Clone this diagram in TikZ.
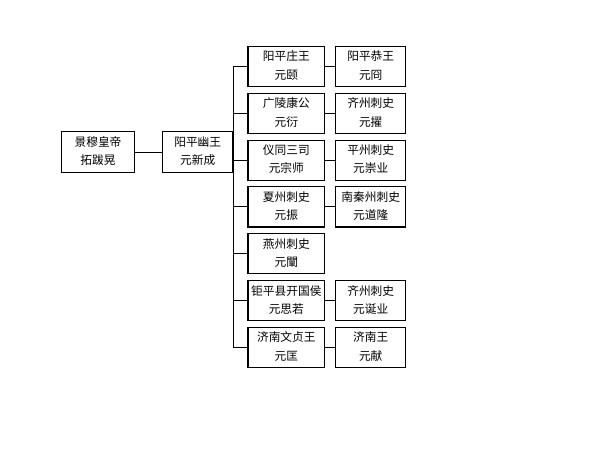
\documentclass[tikz,border=0pt]{standalone}
\usepackage{fontspec}
\newfontfamily\cjk{Noto Sans CJK SC}
\usepackage{tikz}
\usetikzlibrary{matrix,positioning}
\newcommand{\twoline}[2]{\begin{tabular}{@{}c@{}}#1\\#2\end{tabular}}
\renewcommand{\arraystretch}{1.25}
\tikzset{person/.style={draw, line width=0.9pt, minimum height=1.2cm, inner sep=1.5pt,
           font=\cjk\fontsize{10}{12.5}\selectfont},
         link/.style={line width=0.8pt}}

\begin{document}
\begin{tikzpicture}
	  \useasboundingbox (0,0) rectangle (17.76,-13.56);
	  \node[person, minimum width=2.2cm] (emp) at (2.94,-4.56) {\twoline{景穆皇帝}{拓跋晃}};
	  \node[person, minimum width=2.1cm, right=0.81cm of emp] (xincheng) {\twoline{阳平幽王}{元新成}};
	  \matrix (m) [matrix of nodes, row sep=0.17cm, column sep=0.3cm, anchor=north west,
	    nodes={person},
	    column 1/.style={nodes={minimum width=2.3cm}},
	    column 2/.style={nodes={minimum width=2.1cm}}] at (7.3,-1.25)
	    { \twoline{阳平庄王}{元颐}     & \twoline{阳平恭王}{元冏} \\
	      \twoline{广陵康公}{元衍}     & \twoline{齐州刺史}{元擢} \\
	      \twoline{仪同三司}{元宗师}   & \twoline{平州刺史}{元崇业} \\
	      \twoline{夏州刺史}{元振}     & \twoline{南秦州刺史}{元道隆} \\
	      \twoline{燕州刺史}{元闡}     & \\
	      \twoline{钜平县开国侯}{元思若} & \twoline{齐州刺史}{元诞业} \\
	      \twoline{济南文贞王}{元匡}   & \twoline{济南王}{元献} \\ };
	  \coordinate (bus) at ([xshift=-0.3cm]m.west);
	  \draw[link] (emp) -- (xincheng);
	  \draw[link] (xincheng) -- (xincheng -| bus);
	  \draw[link] (m-1-1.west -| bus) -- (m-7-1.west -| bus);
	  \foreach \i in {1,...,7}
	    \draw[link] (m-\i-1.west -| bus) -- (m-\i-1.west);
	  \foreach \i in {1,2,3,4,6,7}
	    \draw[link] (m-\i-1) -- (m-\i-2);
	\end{tikzpicture}
\end{document}
